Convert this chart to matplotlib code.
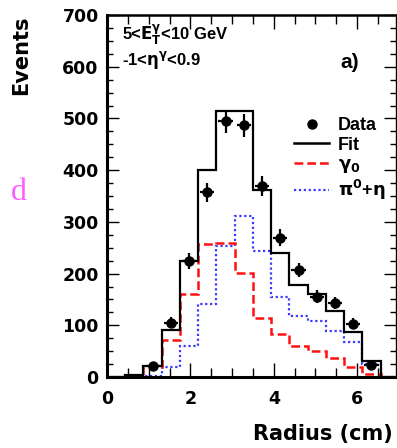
import numpy as np
import matplotlib
matplotlib.use('Agg')
import matplotlib.pyplot as plt
from matplotlib.lines import Line2D

# 16 bins of the cluster radius, 0 - 7 cm
edges = np.linspace(0, 7, 17)
centers = 0.5 * (edges[:-1] + edges[1:])

# fit = prompt photons + neutral meson background
fit = [0, 3, 21, 91, 224, 401, 514, 514, 361, 239, 177, 160, 128, 87, 31, 0]
gamma0 = [0, 3, 20, 71, 160, 258, 259, 201, 115, 83, 59, 50, 37, 20, 6, 0]
pi0_eta = [0, 0, 2, 20, 60, 141, 254, 312, 244, 155, 117, 109, 89, 68, 25, 0]

# measured events (bins 2..14)
data_bins = list(range(2, 15))
data = [21, 105, 224, 357, 495, 487, 370, 269, 207, 155, 143, 103, 23]

plt.rcParams['font.family'] = ['DejaVu Sans']
plt.rcParams['mathtext.default'] = 'bf'

red_ls = (0, (3.5, 1.6))
blue_ls = (0, (1, 1.2))

fig = plt.figure(figsize=(3.97, 4.48), dpi=100)
ax = fig.add_axes([107/397, 1-377/448, (395.5-107)/397, (377-15)/448])

ax.stairs(pi0_eta, edges, color='#3a3aff', lw=1.6, ls=blue_ls, baseline=0)
ax.stairs(gamma0, edges, color='#ff1010', lw=1.8, ls=red_ls, baseline=0)
ax.stairs(fit, edges, color='black', lw=1.6, baseline=0)

x_data = centers[data_bins]
y_data = np.array(data)
ax.errorbar(x_data, y_data, yerr=np.sqrt(y_data), xerr=0.17, fmt='o', color='black',
            ms=6.5, elinewidth=1.6, capsize=0)

ax.set_xlim(0, 6.92)
ax.set_ylim(0, 700)
ax.set_xticks([0, 2, 4, 6])
ax.set_xticks(np.arange(0, 7, 0.5), minor=True)
ax.set_yticks(range(0, 701, 100))
ax.set_yticks(range(0, 701, 25), minor=True)
ax.tick_params(which='both', direction='in', top=True, right=True, labelsize=12.5, width=1)
ax.tick_params(axis='x', which='major', length=10, pad=9)
ax.tick_params(axis='x', which='minor', length=6.5)
ax.tick_params(axis='y', which='major', length=8.5, pad=6)
ax.tick_params(axis='y', which='minor', length=4.5)
for lab in ax.get_xticklabels() + ax.get_yticklabels():
    lab.set_fontweight('bold')

ax.spines['left'].set_linewidth(2.2)
ax.spines['bottom'].set_linewidth(2.2)
ax.spines['top'].set_linewidth(1.8)
ax.spines['right'].set_linewidth(1.0)

ax.set_ylabel('Events', fontsize=15, fontweight='bold', loc='top')
ax.yaxis.set_label_coords(-0.262, 1.0)
ax.set_xlabel('Radius (cm)', fontsize=15, fontweight='bold', loc='right')
ax.xaxis.set_label_coords(0.99, -0.13)

# selection cuts and panel tag
ax.text(0.052, 0.93, r'5<$E_T^{\gamma}$<10 GeV', transform=ax.transAxes,
        fontsize=12, fontweight='bold', family=['Liberation Sans'], va='baseline')
ax.text(0.052, 0.862, r'-1<$\eta^{\gamma}$<0.9', transform=ax.transAxes,
        fontsize=12, fontweight='bold', family=['Liberation Sans'], va='baseline')
ax.text(0.84, 0.87, 'a)', transform=ax.transAxes, fontsize=15, fontweight='bold',
        family=['Liberation Sans'], ha='center', va='center')

handles = [Line2D([], [], color='black', marker='o', ls='none', ms=6.5),
           Line2D([], [], color='black', lw=1.8),
           Line2D([], [], color='#ff1010', lw=1.8, ls=red_ls),
           Line2D([], [], color='#3a3aff', lw=1.6, ls=blue_ls)]
labels = ['Data', 'Fit', r'$\gamma_0$', r'$\pi^0$+$\eta$']
ax.legend(handles, labels, loc='upper left', bbox_to_anchor=(0.624, 0.738), frameon=False,
          prop={'family': 'Liberation Sans', 'weight': 'bold', 'size': 13},
          handlelength=1.95, handletextpad=0.45, labelspacing=0.15, borderaxespad=0)

fig.text(11/397, 1-200/448, 'd', color='#ff5cff', fontsize=23, family=['Liberation Serif'])

fig.savefig('out.png', dpi=100)
